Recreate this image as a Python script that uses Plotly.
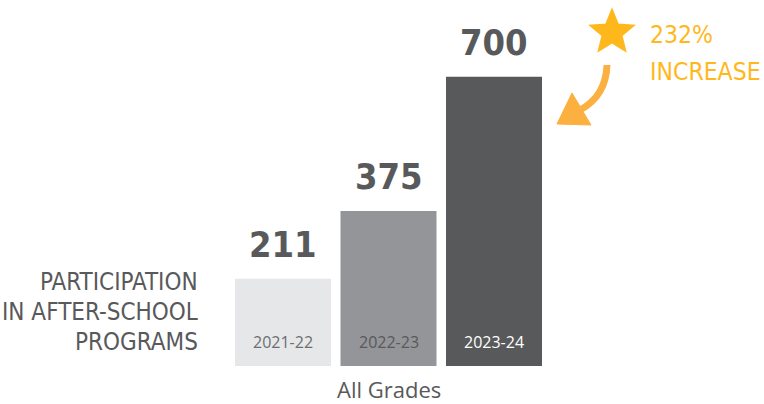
import math
import plotly.graph_objects as go

W, H = 764, 404

years = ["2021-22", "2022-23", "2023-24"]
participants = [211, 375, 700]
bar_colors = ["#e6e7e8", "#939598", "#58595b"]
year_label_colors = ["#6d6e71", "#58595b", "#ffffff"]

GRAY = "#58595b"
GOLD = "#ffb81c"
ARROW = "#fbb040"
NARROW = "DejaVu Sans Condensed, sans-serif"
BODY = "Open Sans, sans-serif"


def px(x):
    return x / W


def py(y):
    return (H - y) / H


fig = go.Figure(
    go.Bar(
        x=years,
        y=participants,
        marker=dict(color=bar_colors, line=dict(width=0)),
        hoverinfo="skip",
    )
)

annotations = []
for yr, val, col in zip(years, participants, year_label_colors):
    # value over the bar
    annotations.append(dict(
        x=yr, y=val, xref="x", yref="y", text="<b>%d</b>" % val, showarrow=False,
        yanchor="bottom", yshift=12,
        font=dict(family=NARROW, size=36, color=GRAY),
    ))
    # school year inside the bar
    annotations.append(dict(
        x=yr, y=0, xref="x", yref="y", text=yr, showarrow=False,
        yanchor="middle", yshift=24,
        font=dict(family=BODY, size=16, color=col),
    ))

annotations.append(dict(
    x=years[1], y=0, xref="x", yref="y", text="All Grades", showarrow=False,
    yanchor="middle", yshift=-23, borderpad=0,
    font=dict(family=BODY, size=22, color=GRAY),
))

left_lines = ["PARTICIPATION", "IN AFTER-SCHOOL", "PROGRAMS"]
for i, line in enumerate(left_lines):
    annotations.append(dict(
        x=px(200), y=py(282 + 30 * i), xref="paper", yref="paper", text=line,
        showarrow=False, xanchor="right", yanchor="middle",
        font=dict(family=NARROW, size=24, color=GRAY),
    ))

gold_lines = ["232%", "INCREASE"]
for i, line in enumerate(gold_lines):
    annotations.append(dict(
        x=px(648), y=py(35 + 36 * i), xref="paper", yref="paper", text=line,
        showarrow=False, xanchor="left", yanchor="middle",
        font=dict(family=NARROW, size=24.5, color=GOLD),
    ))


def path(points, closed=False):
    d = "M " + " L ".join("%.5f,%.5f" % (px(x), py(y)) for x, y in points)
    return d + (" Z" if closed else "")


# star badge
cx, cy, r_out, r_in = 612, 32.5, 22.5, 10
star = []
for k in range(10):
    r = r_out if k % 2 == 0 else r_in
    a = math.radians(-90 + 36 * k)
    star.append((cx + r * math.cos(a), cy + r * math.sin(a)))

shapes = [
    dict(
        type="path", xref="paper", yref="paper", path=path(star, closed=True),
        fillcolor=GOLD, line=dict(color=GOLD, width=2),
    ),
    dict(
        type="path", xref="paper", yref="paper",
        path="M %.5f,%.5f Q %.5f,%.5f %.5f,%.5f" % (
            px(607), py(65), px(606), py(96), px(580), py(110)),
        line=dict(color=ARROW, width=7),
    ),
    dict(
        type="path", xref="paper", yref="paper",
        path=path([(572, 93), (557, 124), (591, 125)], closed=True),
        fillcolor=ARROW, line=dict(color=ARROW, width=1),
    ),
]

fig.update_layout(
    width=W, height=H,
    margin=dict(l=0, r=0, t=0, b=0),
    paper_bgcolor="white", plot_bgcolor="white",
    showlegend=False,
    bargap=0.09,
    xaxis=dict(
        domain=[230.25 / W, 546.75 / W],
        range=[-0.5, 2.5],
        showticklabels=False, showgrid=False, zeroline=False, showline=False,
        ticks="",
    ),
    yaxis=dict(
        domain=[py(366), 1],
        range=[0, 366 / 0.4133],
        showticklabels=False, showgrid=False, zeroline=False, showline=False,
        ticks="",
    ),
    annotations=annotations,
    shapes=shapes,
)

# drop the page's default 8px body margin so the figure sits at 0,0
fig.write_html(
    "out.html",
    config={"displayModeBar": False},
    post_script="document.body.style.margin='0';",
)
